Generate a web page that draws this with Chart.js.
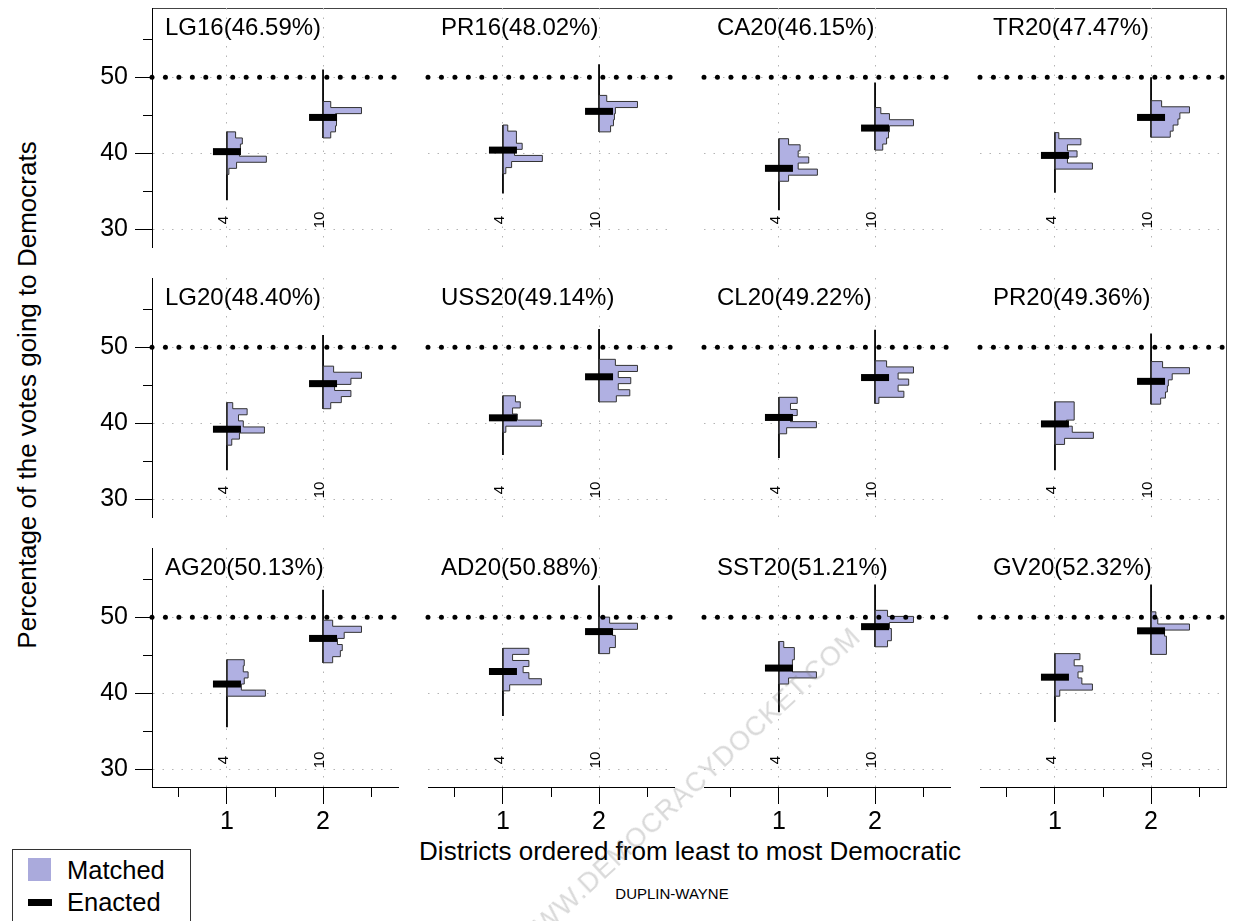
<!DOCTYPE html>
<html><head><meta charset="utf-8">
<script src="https://cdn.jsdelivr.net/npm/chart.js@4.4.0/dist/chart.umd.min.js"></script>
<style>
html,body{margin:0;padding:0;background:#fff;}
body{width:1233px;height:921px;overflow:hidden;position:relative;font-family:"Liberation Sans",Arial,Helvetica,sans-serif;color:#000;}
canvas.pc{position:absolute;}
.abs{position:absolute;white-space:nowrap;}
</style></head><body>
<div class="abs" style="left:152px;top:8px;width:1074px;height:0;border-top:1px solid #444;"></div>
<div class="abs" style="left:1226px;top:8px;width:0;height:779px;border-left:1px solid #444;"></div>

<div class="abs" style="left:690px;top:851px;transform:translate(-50%,-50%);font-size:26px;">Districts ordered from least to most Democratic</div>
<div class="abs" style="left:27px;top:395px;transform:translate(-50%,-50%) rotate(-90deg);font-size:26px;">Percentage of the votes going to Democrats</div>
<div class="abs" style="left:672px;top:893px;transform:translate(-50%,-50%);font-size:15px;">DUPLIN-WAYNE</div>

<div class="abs" style="left:12px;top:849px;width:177px;height:90px;border:1px solid #333;background:#fff;">
  <div class="abs" style="left:15px;top:8px;width:23px;height:23px;background:#aaaadc;"></div>
  <div class="abs" style="left:54px;top:20px;transform:translateY(-50%);font-size:25.5px;">Matched</div>
  <div class="abs" style="left:15px;top:49px;width:24px;height:7px;background:#000;"></div>
  <div class="abs" style="left:54px;top:52px;transform:translateY(-50%);font-size:25.5px;">Enacted</div>
</div>

<script>
// ---------------- data ----------------
const elections   = ['LG16','PR16','CA20','TR20','LG20','USS20','CL20','PR20','AG20','AD20','SST20','GV20'];
const statewide   = ['46.59','48.02','46.15','47.47','48.40','49.14','49.22','49.36','50.13','50.88','51.21','52.32'];
const districtPos    = [1, 2];
const districtLabels = ['4', '10'];
const xTickLabels    = ['1', '2'];
const yTickLabels    = ['30', '40', '50'];
const thresholdLine  = 50;
const binWidth       = 0.8;

// enacted plan value [district 1, district 2]
const enacted = [[40.2,44.7],[40.4,45.5],[38.0,43.3],[39.7,44.7],
                 [39.2,45.2],[40.7,46.1],[40.75,46.0],[39.9,45.5],
                 [41.2,47.2],[42.85,48.1],[43.3,48.75],[42.1,48.2]];
// lowest histogram bin edge [district 1, district 2]
const histLow = [[37.2,42.0],[37.3,42.8],[36.3,40.4],[37.9,42.1],
                 [37.1,41.9],[38.8,42.8],[38.6,42.6],[37.2,42.5],
                 [39.6,44.0],[40.3,45.2],[41.2,46.1],[39.6,45.1]];
// histogram bar lengths (bottom bin first), district 1
const histD1 = [[0.02,0.10,0.41,0.13,0.14,0.16,0.09],
                [0.03,0.09,0.41,0.12,0.20,0.14,0.14,0.05],
                [0.10,0.40,0.20,0.31,0.20,0.22,0.10],
                [0.39,0.13,0.23,0.13,0.27,0.04],
                [0.05,0.13,0.39,0.17,0.12,0.21,0.06],
                [0.03,0.40,0.15,0.10,0.18,0.13],
                [0.08,0.39,0.12,0.19,0.12,0.19],
                [0.10,0.40,0.18,0.12,0.20,0.20,0.20],
                [0.40,0.15,0.18,0.22,0.17,0.18],
                [0.07,0.40,0.27,0.21,0.27,0.10,0.27],
                [0.10,0.39,0.14,0.14,0.16,0.16,0.05],
                [0.05,0.39,0.28,0.24,0.29,0.20,0.26]];
// histogram bar lengths (bottom bin first), district 2
const histD2 = [[0.08,0.13,0.14,0.13,0.40,0.08],
                [0.12,0.15,0.16,0.17,0.40,0.08],
                [0.08,0.12,0.14,0.15,0.40,0.15,0.06],
                [0.20,0.23,0.28,0.30,0.40,0.11],
                [0.08,0.19,0.29,0.12,0.29,0.40,0.11],
                [0.18,0.32,0.20,0.33,0.20,0.40,0.17],
                [0.04,0.30,0.24,0.35,0.24,0.40,0.12],
                [0.10,0.15,0.17,0.18,0.22,0.40,0.12],
                [0.10,0.18,0.20,0.15,0.22,0.40,0.10],
                [0.11,0.17,0.17,0.14,0.40,0.11],
                [0.13,0.17,0.17,0.15,0.40,0.13],
                [0.16,0.16,0.16,0.14,0.40,0.07,0.05]];
// full range of matched plans [district 1, district 2]
const rangeMin = [[33.8,42.0],[34.7,42.8],[32.5,40.4],[34.8,42.1],
                  [33.8,41.9],[35.8,42.8],[35.4,42.6],[33.8,42.5],
                  [35.5,44.0],[37.0,45.2],[37.5,46.1],[36.2,45.1]];
const rangeMax = [[42.8,51.0],[43.7,51.7],[41.9,49.3],[42.7,50.0],
                  [42.7,51.6],[43.6,52.4],[43.4,52.3],[42.8,51.8],
                  [44.4,53.6],[45.9,54.2],[46.8,54.3],[45.2,54.3]];

// ---------------- layout / style ----------------
const FONT = '"Liberation Sans", Arial, Helvetica, sans-serif';
const X_MIN = 0.22, X_MAX = 2.78, Y_MIN = 27.65, Y_MAX = 59.1;
const colLeft = [152, 428, 704, 980];
const rowTop  = [8, 278, 548];
const PW = 246, PH = 239, AXW = 60, AXH = 50, PADT = 25, PADR = 20;
const FILL = '#b0b0e2', OUTLINE = '#333', GRID = '#b4b4b4';

function histPolygon(pos, lo, widths) {
  const pts = [{x: pos, y: lo}];
  widths.forEach((w, i) => {
    pts.push({x: pos + w, y: lo + i * binWidth});
    pts.push({x: pos + w, y: lo + (i + 1) * binWidth});
  });
  pts.push({x: pos, y: lo + widths.length * binWidth});
  pts.push({x: pos, y: lo});
  return pts;
}

const panelText = {
  id: 'panelText',
  afterDatasetsDraw(chart, args, opts) {
    const {ctx, chartArea, scales} = chart;
    ctx.save();
    ctx.fillStyle = '#000';
    ctx.font = '15px ' + FONT;
    ctx.textAlign = 'center';
    ctx.textBaseline = 'alphabetic';
    districtPos.forEach((d, k) => {
      const px = scales.x.getPixelForValue(d) + 1;
      const py = scales.y.getPixelForValue(31.2);
      ctx.save();
      ctx.translate(px, py);
      ctx.rotate(-Math.PI / 2);
      ctx.fillText(districtLabels[k], 0, 0);
      ctx.restore();
    });
    ctx.font = '24px ' + FONT;
    ctx.textAlign = 'left';
    ctx.fillText(opts.title, chartArea.left + 13, chartArea.top + 27);
    ctx.restore();
  }
};

elections.forEach((el, i) => {
  const r = Math.floor(i / 4), c = i % 4;
  const isLeft = c === 0, isBottom = r === 2;
  const cv = document.createElement('canvas');
  cv.className = 'pc';
  const W = AXW + PW + PADR, H = PADT + PH + AXH;
  cv.width = W; cv.height = H;
  cv.style.width = W + 'px'; cv.style.height = H + 'px';
  cv.style.left = (colLeft[c] - AXW) + 'px';
  cv.style.top = (rowTop[r] - PADT) + 'px';
  document.body.appendChild(cv);

  const datasets = [];
  districtPos.forEach((d, k) => {
    datasets.push({
      label: 'range', data: [{x: d, y: rangeMin[i][k]}, {x: d, y: rangeMax[i][k]}],
      showLine: true, borderColor: '#000', borderWidth: 1.8, pointRadius: 0, order: 3
    });
    datasets.push({
      label: 'Matched', data: histPolygon(d, histLow[i][k], k === 0 ? histD1[i] : histD2[i]),
      showLine: true, fill: 'shape', backgroundColor: FILL, borderColor: OUTLINE,
      borderWidth: 1, pointRadius: 0, tension: 0, order: 2
    });
    datasets.push({
      label: 'Enacted', data: [{x: d, y: enacted[i][k]}],
      showLine: false, pointStyle: 'line', pointRadius: 14, pointBorderWidth: 7,
      pointBorderColor: '#000', pointBackgroundColor: '#000', order: 0, clip: false
    });
  });
  datasets.push({
    label: 'threshold', data: [{x: X_MIN, y: thresholdLine}, {x: X_MAX, y: thresholdLine}],
    showLine: true, borderColor: '#000', borderWidth: 5, borderDash: [0, 13.45],
    borderCapStyle: 'round', pointRadius: 0, order: 1, clip: false
  });

  new Chart(cv, {
    type: 'scatter',
    data: {datasets},
    options: {
      responsive: false, animation: false, events: [], devicePixelRatio: 1,
      layout: {autoPadding: false, padding: {left: 0, right: PADR, top: PADT, bottom: 0}},
      plugins: {legend: {display: false}, tooltip: {enabled: false}, panelText: {title: el + '(' + statewide[i] + '%)'}},
      scales: {
        x: {
          type: 'linear', min: X_MIN, max: X_MAX,
          afterFit: s => { s.height = AXH; },
          ticks: {
            display: isBottom, stepSize: 0.5, includeBounds: false, autoSkip: false, maxRotation: 0,
            padding: 3, color: '#000', font: {size: 25, family: FONT},
            callback: v => { const idx = districtPos.indexOf(v); return idx >= 0 ? xTickLabels[idx] : ''; }
          },
          grid: {
            color: ctx => (ctx.tick && Number.isInteger(ctx.tick.value)) ? GRID : 'rgba(0,0,0,0)',
            lineWidth: 1, drawTicks: isBottom, tickLength: 17, tickColor: '#000', tickWidth: 1,
            tickBorderDash: ctx => (ctx.tick && Number.isInteger(ctx.tick.value)) ? [] : [9, 100]
          },
          border: {display: isBottom, color: '#000', width: 1, dash: [1.5, 8]}
        },
        y: {
          type: 'linear', min: Y_MIN, max: Y_MAX,
          afterFit: s => { s.width = AXW; },
          ticks: {
            display: isLeft, stepSize: 5, includeBounds: false, autoSkip: false,
            padding: 7, color: '#000', font: {size: 25, family: FONT},
            callback: v => yTickLabels.includes(String(v)) ? String(v) : ''
          },
          grid: {
            color: ctx => (ctx.tick && ctx.tick.value % 10 === 0) ? GRID : 'rgba(0,0,0,0)',
            lineWidth: 1, drawTicks: isLeft, tickLength: 17, tickColor: '#000', tickWidth: 1,
            tickBorderDash: ctx => (ctx.tick && ctx.tick.value % 10 === 0) ? [] : [0, 8, 9, 100]
          },
          border: {display: isLeft, color: '#000', width: 1, dash: [1.5, 8]}
        }
      }
    },
    plugins: [panelText]
  });
});
</script>

<div class="abs" style="left:688px;top:790px;transform:translate(-50%,-50%) rotate(-43deg);font-size:27px;color:rgba(120,120,120,0.28);letter-spacing:1px;pointer-events:none;">WWW.DEMOCRACYDOCKET.COM</div>
</body></html>
